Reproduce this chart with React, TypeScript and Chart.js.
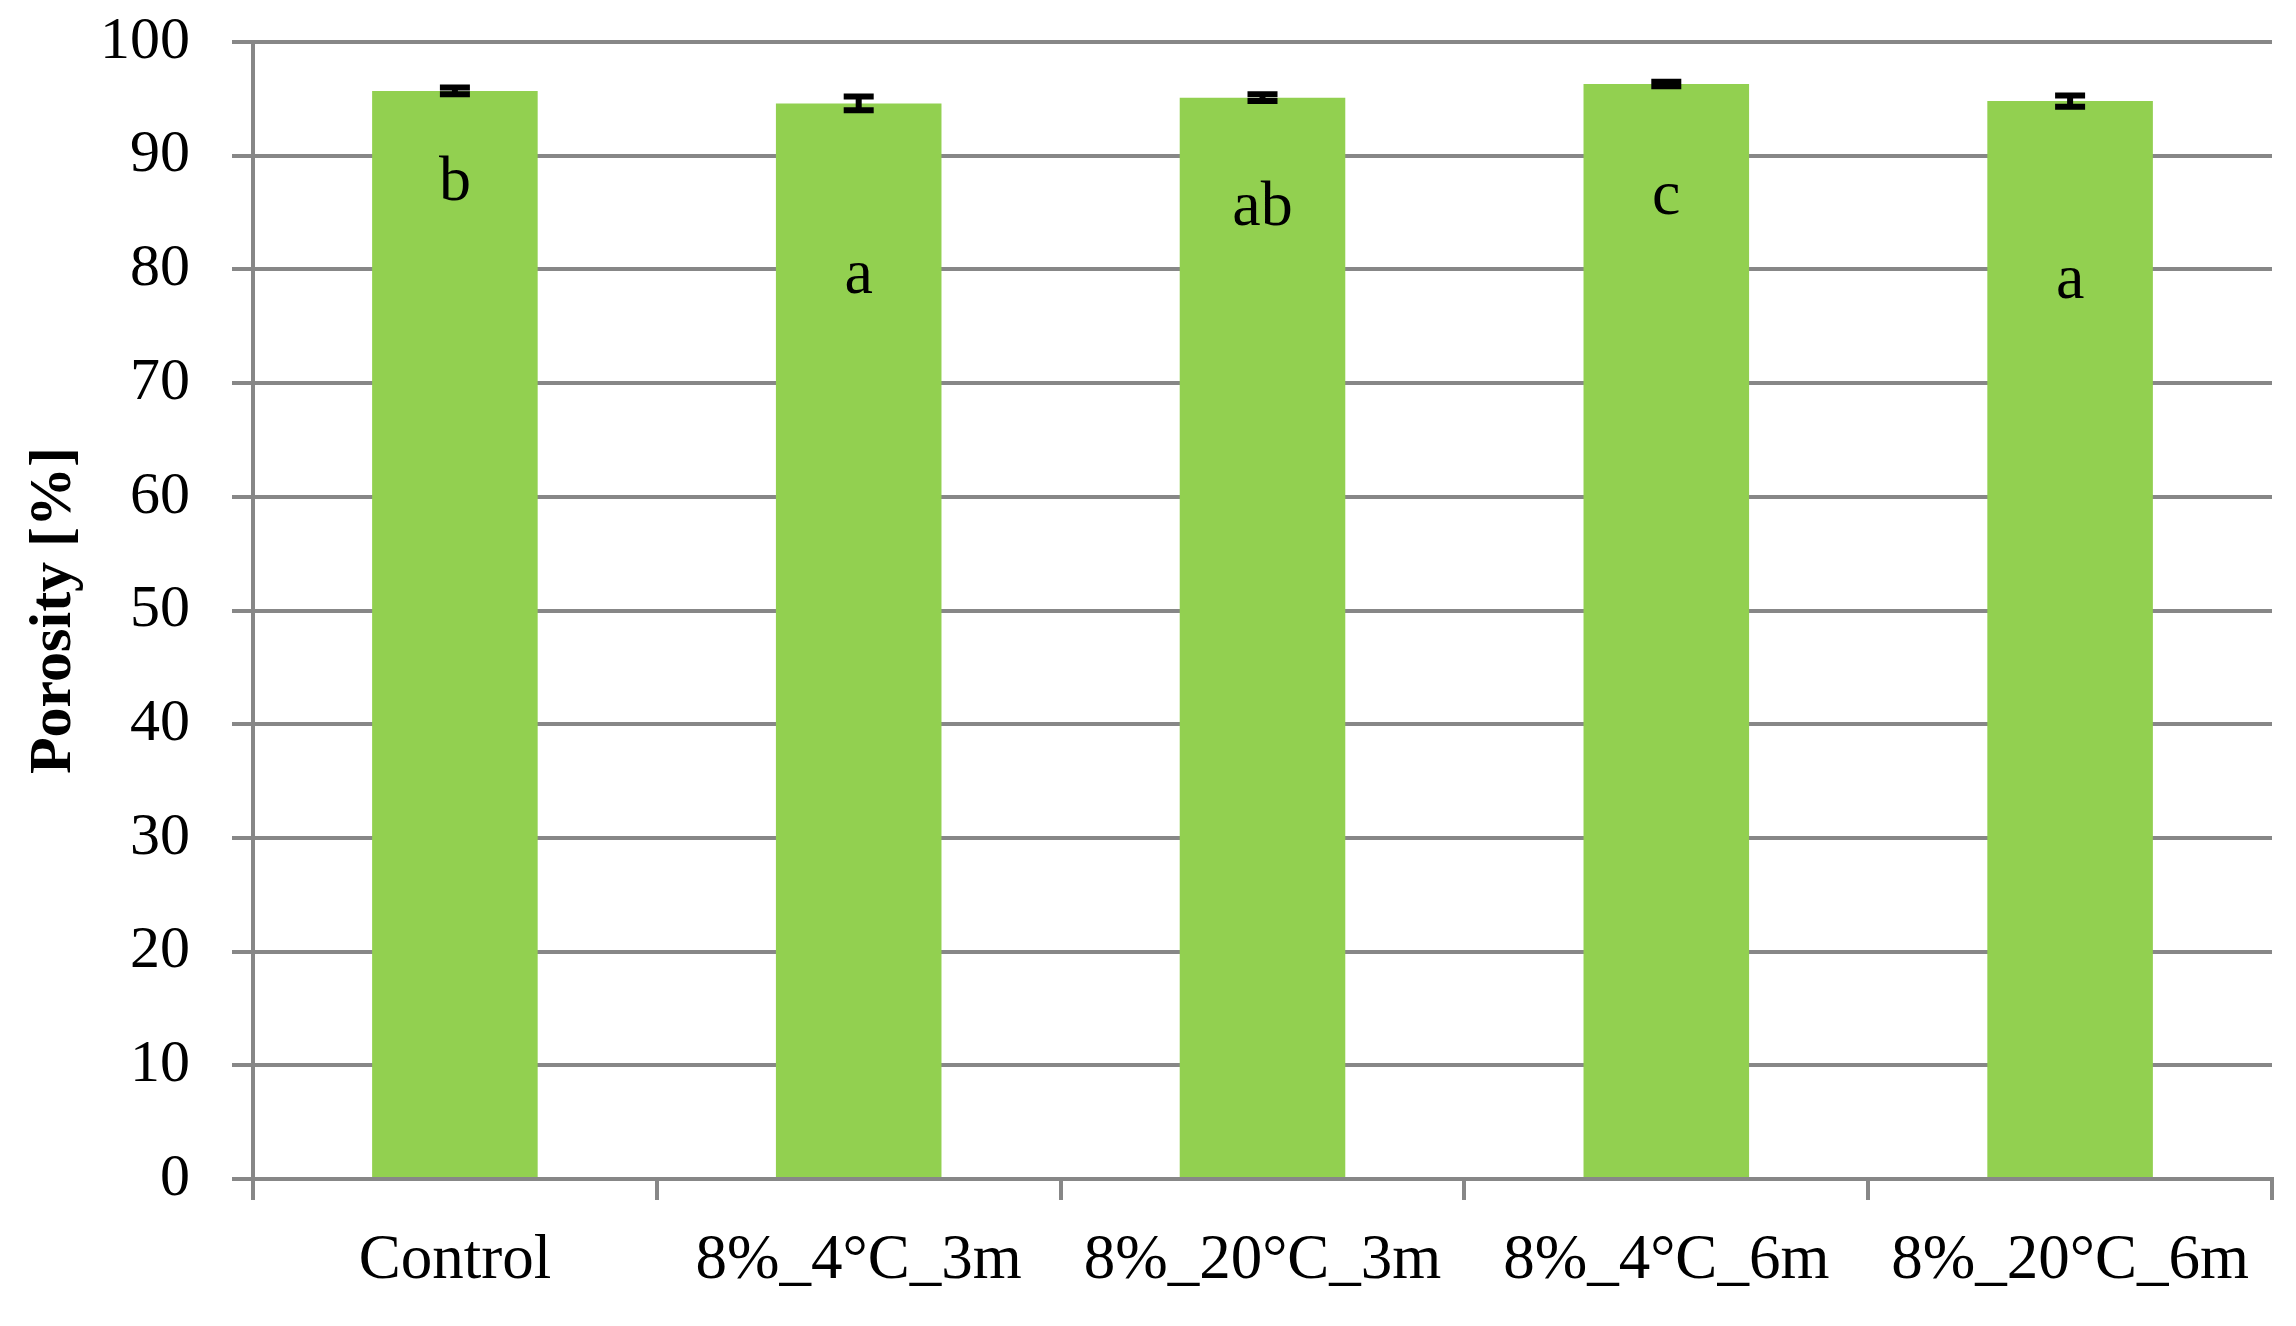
import React, { useEffect, useRef } from "react";
import { Chart, registerables } from "chart.js";

Chart.register(...registerables);

const categories = ["Control", "8%_4°C_3m", "8%_20°C_3m", "8%_4°C_6m", "8%_20°C_6m"];
const porosity = [95.7, 94.6, 95.1, 96.3, 94.8];
const errors = [0.3, 0.6, 0.3, 0.2, 0.5];
const letters = ["b", "a", "ab", "c", "a"];
const letterBaseline = [86.1, 77.9, 83.9, 84.9, 77.5];

const FONT = "'Liberation Serif', 'Times New Roman', serif";
const GRID = "#878787";

const overlayPlugin = {
  id: "overlay",
  afterDatasetsDraw(chart: any) {
    const ctx = chart.ctx;
    const meta = chart.getDatasetMeta(0);
    const y = chart.scales.y;
    ctx.save();
    meta.data.forEach((bar: any, i: number) => {
      const x = bar.x;
      const top = y.getPixelForValue(porosity[i] + errors[i]);
      const bot = y.getPixelForValue(porosity[i] - errors[i]);
      ctx.strokeStyle = "#000";
      ctx.lineWidth = 6;
      ctx.beginPath();
      ctx.moveTo(x, top);
      ctx.lineTo(x, bot);
      ctx.moveTo(x - 15, top);
      ctx.lineTo(x + 15, top);
      ctx.moveTo(x - 15, bot);
      ctx.lineTo(x + 15, bot);
      ctx.stroke();
      ctx.fillStyle = "#000";
      ctx.font = `64px ${FONT}`;
      ctx.textAlign = "center";
      ctx.textBaseline = "alphabetic";
      ctx.fillText(letters[i], x, y.getPixelForValue(letterBaseline[i]));
    });
    ctx.restore();
  },
};

export default function App() {
  const ref = useRef<HTMLCanvasElement | null>(null);
  useEffect(() => {
    document.body.style.margin = "0";
    document.body.style.overflow = "hidden";
    const chart = new Chart(ref.current as HTMLCanvasElement, {
      type: "bar",
      data: {
        labels: categories,
        datasets: [
          {
            data: porosity,
            backgroundColor: "#92D050",
            borderWidth: 0,
            barPercentage: 0.41,
            categoryPercentage: 1,
          },
        ],
      },
      options: {
        animation: false,
        responsive: false,
        maintainAspectRatio: false,
        layout: { padding: { top: 42, right: 24, left: 0, bottom: 0 } },
        plugins: { legend: { display: false }, tooltip: { enabled: false } },
        scales: {
          x: {
            offset: true,
            grid: {
              offset: true,
              drawOnChartArea: false,
              drawTicks: true,
              tickLength: 21,
              color: GRID,
              lineWidth: 4,
            },
            border: { color: GRID, width: 4 },
            ticks: {
              color: "#000",
              font: { family: FONT, size: 63 },
              padding: 24,
              maxRotation: 0,
            },
            afterFit: (s: any) => {
              s.height = 147;
              s.paddingLeft = 0;
              s.paddingRight = 0;
            },
          },
          y: {
            min: 0,
            max: 100,
            grid: {
              color: GRID,
              lineWidth: 4,
              tickLength: 21,
              drawTicks: true,
            },
            border: { color: GRID, width: 4 },
            ticks: {
              stepSize: 10,
              color: "#000",
              font: { family: FONT, size: 60 },
              padding: 42,
            },
            title: {
              display: true,
              text: "Porosity [%]",
              color: "#000",
              font: { family: FONT, size: 60, weight: "bold" },
              padding: { top: 18, bottom: 0 },
            },
            afterFit: (s: any) => {
              s.width = 253;
              s.paddingTop = 0;
              s.paddingBottom = 0;
            },
          },
        },
      },
      plugins: [overlayPlugin],
    });
    return () => chart.destroy();
  }, []);
  return (
    <div style={{ width: 2296, height: 1326, background: "#fff" }}>
      <canvas ref={ref} width={2296} height={1326} style={{ display: "block" }} />
    </div>
  );
}
